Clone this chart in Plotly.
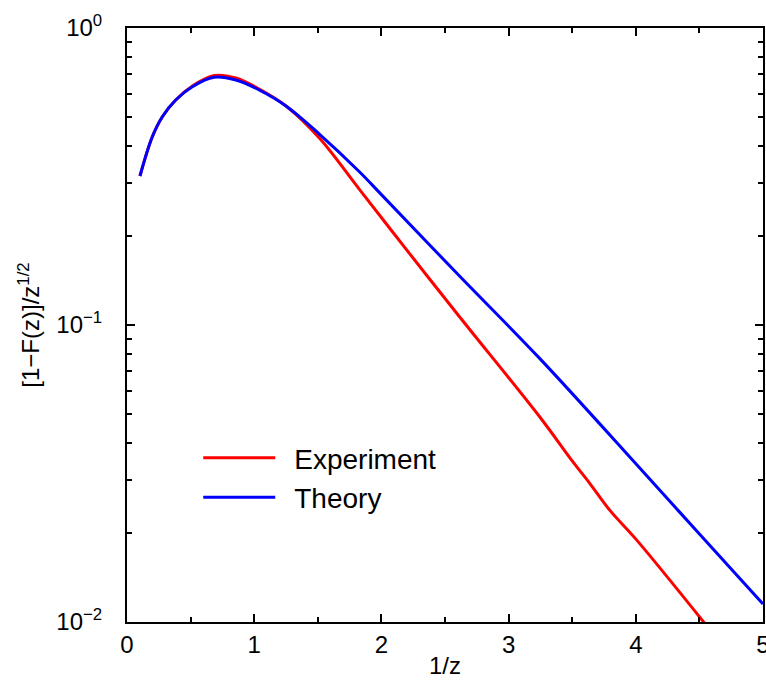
import plotly.graph_objects as go

# Data
exp_x = [0.102, 0.199, 0.278, 0.383, 0.514, 0.685, 0.856, 1.039, 1.25, 1.512,
         1.827, 2.220, 2.614, 3.244, 3.506, 3.638, 3.795, 4.006, 4.55]
exp_y = [0.3175, 0.4305, 0.5028, 0.5722, 0.6377, 0.6919, 0.6785, 0.6232, 0.5463, 0.4262,
         0.2863, 0.1743, 0.1066, 0.0491, 0.0346, 0.0293, 0.0238, 0.0189, 0.0098]

th_x = [0.102, 0.199, 0.278, 0.383, 0.514, 0.685, 0.856, 1.039, 1.25, 1.512,
        1.827, 2.0, 2.614, 3.244, 4.031, 4.504, 5.0]
th_y = [0.3175, 0.4305, 0.5028, 0.5722, 0.6343, 0.6823, 0.668, 0.6183, 0.5463, 0.4395,
        0.3282, 0.2748, 0.1462, 0.0772, 0.0330, 0.0197, 0.0115]

y_tickvals = [0.01, 0.1, 1]
y_ticktext = ["10<sup>\u22122</sup>", "10<sup>\u22121</sup>", "10<sup>0</sup>"]
y_minor = [2e-2, 3e-2, 4e-2, 5e-2, 6e-2, 7e-2, 8e-2, 9e-2,
           0.2, 0.3, 0.4, 0.5, 0.6, 0.7, 0.8, 0.9]
x_tickvals = [0, 1, 2, 3, 4, 5]
x_minor = [0.5, 1.5, 2.5, 3.5, 4.5]

FONT = "Liberation Sans, Arial, sans-serif"

fig = go.Figure()
fig.add_trace(go.Scatter(x=exp_x, y=exp_y, mode="lines", name="\u2002Experiment",
                         line=dict(color="#ff0000", width=3, shape="spline")))
fig.add_trace(go.Scatter(x=th_x, y=th_y, mode="lines", name="\u2002Theory",
                         line=dict(color="#0000ff", width=3, shape="spline")))

fig.update_layout(
    width=766, height=692,
    margin=dict(l=127, r=3, t=28, b=70),
    paper_bgcolor="white", plot_bgcolor="white",
    font=dict(family=FONT, color="black", size=24),
    showlegend=True,
    legend=dict(x=0.112, y=0.318, xanchor="left", yanchor="top",
                bgcolor="rgba(0,0,0,0)", font=dict(size=28),
                itemwidth=72, tracegroupgap=0),
)
fig.update_xaxes(
    range=[0, 5], tickvals=x_tickvals, ticktext=[str(v) for v in x_tickvals],
    ticks="inside", ticklen=8, tickwidth=2, tickcolor="black",
    minor=dict(tickvals=x_minor, ticks="inside", ticklen=5, tickwidth=2, tickcolor="black"),
    showline=True, linecolor="black", linewidth=2, mirror="allticks",
    showgrid=False, zeroline=False, automargin=False,
    ticklabeloverflow="allow", ticklabelstandoff=0,
    title=dict(text="1/z", font=dict(size=24), standoff=0),
    tickfont=dict(size=24),
)
fig.update_yaxes(
    type="log", range=[-2, 0], tickvals=y_tickvals, ticktext=y_ticktext,
    ticks="inside", ticklen=8, tickwidth=2, tickcolor="black",
    minor=dict(tickvals=y_minor, ticks="inside", ticklen=5, tickwidth=2, tickcolor="black"),
    showline=True, linecolor="black", linewidth=2, mirror="allticks",
    showgrid=False, zeroline=False, automargin=False,
    ticklabeloverflow="allow", ticklabelstandoff=18,
    title=dict(text="[1\u2212F(z)]/z<sup>1/2</sup>", font=dict(size=24), standoff=10),
    tickfont=dict(size=24),
)

fig.write_html(
    "out.html",
    config={"displayModeBar": False},
    post_script="document.body.style.margin='0';document.body.style.overflow='hidden';",
)
